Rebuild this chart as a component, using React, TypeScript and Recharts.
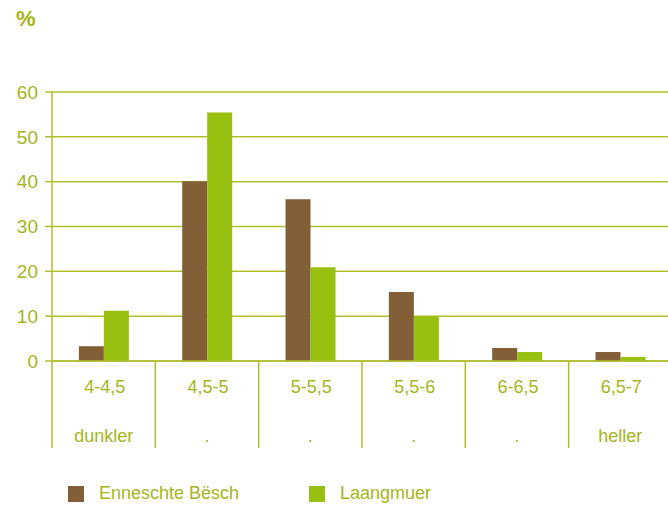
import React from 'react';
import {
  BarChart,
  Bar,
  XAxis,
  YAxis,
  CartesianGrid,
  Legend,
} from 'recharts';

const categories = ['4-4,5', '4,5-5', '5-5,5', '5,5-6', '6-6,5', '6,5-7'];
const subLabels = ['dunkler', '.', '.', '.', '.', 'heller'];
const enneschteBesch = [3.3, 40.1, 36.1, 15.4, 2.9, 2.0];
const laangmuer = [11.2, 55.4, 20.9, 10.0, 2.0, 0.9];
const yTicks = [0, 10, 20, 30, 40, 50, 60];

const BROWN = '#825f37';
const GREEN = '#98c010';
const TEXT = '#a6b51c';
const LINE = '#b0be2c';
const FONT = '"Liberation Sans", Arial, sans-serif';

const data = categories.map((c, i) => ({
  cat: c,
  sub: subLabels[i],
  besch: enneschteBesch[i],
  muer: laangmuer[i],
}));

// two-line category label plus the divider on the left of each band
function CategoryTick(props: any) {
  const { x, y, payload, index } = props;
  const half = payload?.offset ?? 620 / 12;
  const left = x - half;
  return (
    <g>
      <line x1={left} y1={y} x2={left} y2={y + 87} stroke={LINE} strokeWidth={1.5} />
      <text x={x + 1} y={y + 32} textAnchor="middle" fill={TEXT} fontSize={18} fontFamily={FONT}>
        {payload.value}
      </text>
      <text x={x} y={y + 81} textAnchor="middle" fill={TEXT} fontSize={18} fontFamily={FONT}>
        {subLabels[index]}
      </text>
    </g>
  );
}

function LegendBox(props: any) {
  const items = props.payload || [];
  return (
    <div style={{ display: 'flex', fontFamily: FONT, fontSize: 18, color: TEXT }}>
      {items.map((it: any) => (
        <div key={it.value} style={{ width: 241, display: 'flex', alignItems: 'center' }}>
          <span style={{ width: 16, height: 16, background: it.color, display: 'inline-block', marginRight: 15 }} />
          <span>{it.value}</span>
        </div>
      ))}
    </div>
  );
}

export default function App() {
  return (
    <div style={{ position: 'absolute', left: 0, top: 0, width: 668, height: 509, background: '#fff', overflow: 'hidden' }}>
      <div
        style={{
          position: 'absolute',
          left: 16,
          top: 6,
          fontFamily: FONT,
          fontWeight: 'bold',
          fontSize: 22,
          color: TEXT,
        }}
      >
        %
      </div>
      <BarChart
        width={672}
        height={509}
        data={data}
        margin={{ top: 92, right: 0, bottom: 0, left: 0 }}
        barCategoryGap="26%"
        barGap={0}
      >
        <CartesianGrid vertical={false} stroke={LINE} strokeWidth={1.5} />
        <XAxis
          dataKey="cat"
          axisLine={{ stroke: LINE, strokeWidth: 1.5 }}
          tickLine={false}
          tickSize={0}
          tickMargin={0}
          interval={0}
          tick={<CategoryTick />}
          height={148}
        />
        <YAxis
          domain={[0, 60]}
          ticks={yTicks}
          width={52}
          axisLine={{ stroke: LINE, strokeWidth: 1.5 }}
          tickLine={{ stroke: LINE, strokeWidth: 1.5 }}
          tickSize={7}
          tickMargin={7}
          tick={{ fill: TEXT, fontSize: 19, fontFamily: FONT }}
        />
        <Legend
          layout="horizontal"
          verticalAlign="middle"
          align="center"
          content={<LegendBox />}
          wrapperStyle={{ position: 'absolute', left: 68, top: 483, width: 500 }}
        />
        <Bar dataKey="besch" name="Enneschte Bësch" fill={BROWN} isAnimationActive={false} />
        <Bar dataKey="muer" name="Laangmuer" fill={GREEN} isAnimationActive={false} />
      </BarChart>
    </div>
  );
}
